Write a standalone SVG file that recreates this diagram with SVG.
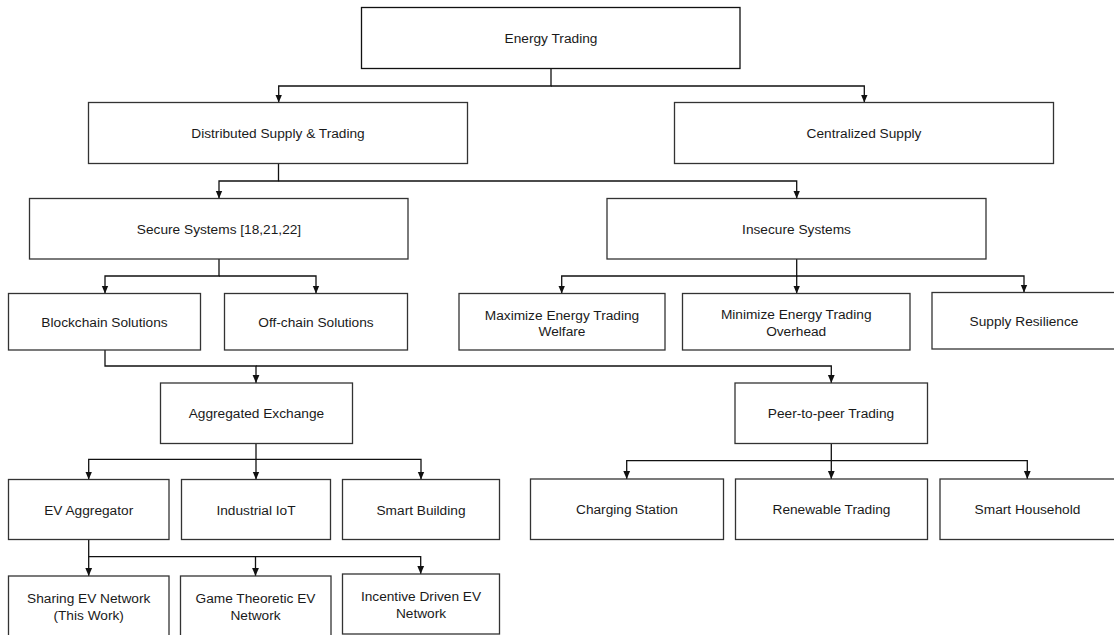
<svg xmlns="http://www.w3.org/2000/svg" width="1114" height="635" viewBox="0 0 1114 635">
  <style>
    .box { fill: #ffffff; stroke: #333333; stroke-width: 1.3; }
    .root { stroke: #111111; }
    .lbl { font-family: "Liberation Sans", Arial, sans-serif; font-size: 13.7px; fill: #1a1a1a; text-anchor: middle; }
    .edge { fill: none; stroke: #111111; stroke-width: 1.3; }
  </style>
  <defs>
    <marker id="arrow" viewBox="0 0 8 8" refX="8" refY="4" markerWidth="8" markerHeight="8" markerUnits="userSpaceOnUse" orient="auto">
      <path d="M0,0.6 L8,4 L0,7.4 z" fill="#111111"/>
    </marker>
  </defs>
  <rect width="1114" height="635" fill="#ffffff"/>

  <!-- connectors -->
  <g id="connectors" class="edge">
    <path d="M551,68.5 V86 H278.7 V102.5" marker-end="url(#arrow)"/>
    <path d="M551,86 H864.3 V102.5" marker-end="url(#arrow)"/>

    <path d="M278.5,163.5 V181 H219 V198.5" marker-end="url(#arrow)"/>
    <path d="M278.5,181 H796.7 V198.5" marker-end="url(#arrow)"/>

    <path d="M219,259 V276 H105 V293.5" marker-end="url(#arrow)"/>
    <path d="M219,276 H316 V293.5" marker-end="url(#arrow)"/>

    <path d="M796.7,259 V276 H561.7 V293.5" marker-end="url(#arrow)"/>
    <path d="M796.7,276 V293.5" marker-end="url(#arrow)"/>
    <path d="M796.7,276 H1024 V292.5" marker-end="url(#arrow)"/>

    <path d="M105,350 V366 H256 V383" marker-end="url(#arrow)"/>
    <path d="M256,366 H831.3 V383" marker-end="url(#arrow)"/>

    <path d="M256,443.5 V459.3 H88.7 V479.5" marker-end="url(#arrow)"/>
    <path d="M256,459.3 V479.5" marker-end="url(#arrow)"/>
    <path d="M256,459.3 H421 V479.5" marker-end="url(#arrow)"/>

    <path d="M831.3,443.5 V460.7 H626.7 V479" marker-end="url(#arrow)"/>
    <path d="M831.3,460.7 V479" marker-end="url(#arrow)"/>
    <path d="M831.3,460.7 H1027.3 V479" marker-end="url(#arrow)"/>

    <path d="M88.7,539.5 V556.7 V576" marker-end="url(#arrow)"/>
    <path d="M88.7,556.7 H255.5 V576" marker-end="url(#arrow)"/>
    <path d="M255.5,556.7 H420.7 V574" marker-end="url(#arrow)"/>
  </g>

  <!-- level 0 -->
  <g id="energy-trading">
    <rect class="box root" x="361.5" y="7.5" width="378.5" height="61"/>
    <text class="lbl" x="551" y="43">Energy Trading</text>
  </g>

  <!-- level 1 -->
  <g id="distributed-supply">
    <rect class="box" x="88.5" y="102.5" width="379" height="61"/>
    <text class="lbl" x="278" y="138">Distributed Supply &amp; Trading</text>
  </g>
  <g id="centralized-supply">
    <rect class="box" x="674.5" y="102.5" width="379" height="61"/>
    <text class="lbl" x="864" y="138">Centralized Supply</text>
  </g>

  <!-- level 2 -->
  <g id="secure-systems">
    <rect class="box" x="29.5" y="198.5" width="378.5" height="60.5"/>
    <text class="lbl" x="219" y="233.7">Secure Systems [18,21,22]</text>
  </g>
  <g id="insecure-systems">
    <rect class="box" x="607" y="198.5" width="379" height="60.5"/>
    <text class="lbl" x="796.5" y="233.7">Insecure Systems</text>
  </g>

  <!-- level 3 -->
  <g id="blockchain-solutions">
    <rect class="box" x="8.5" y="293.5" width="192" height="56.5"/>
    <text class="lbl" x="104.5" y="326.7">Blockchain Solutions</text>
  </g>
  <g id="offchain-solutions">
    <rect class="box" x="224.5" y="293.5" width="183" height="56.5"/>
    <text class="lbl" x="316" y="326.7">Off-chain Solutions</text>
  </g>
  <g id="maximize-welfare">
    <rect class="box" x="459" y="293.5" width="206" height="56.5"/>
    <text class="lbl" x="562" y="319.7">Maximize Energy Trading</text>
    <text class="lbl" x="562" y="336.3">Welfare</text>
  </g>
  <g id="minimize-overhead">
    <rect class="box" x="682.5" y="293.5" width="227.5" height="56.5"/>
    <text class="lbl" x="796.2" y="319.3">Minimize Energy Trading</text>
    <text class="lbl" x="796.2" y="335.7">Overhead</text>
  </g>
  <g id="supply-resilience">
    <rect class="box" x="932" y="292.5" width="190" height="56.5"/>
    <text class="lbl" x="1024" y="326">Supply Resilience</text>
  </g>

  <!-- level 4 -->
  <g id="aggregated-exchange">
    <rect class="box" x="160.5" y="383" width="192" height="60.5"/>
    <text class="lbl" x="256.4" y="418.2">Aggregated Exchange</text>
  </g>
  <g id="peer-to-peer">
    <rect class="box" x="735" y="383" width="192.5" height="60.5"/>
    <text class="lbl" x="831" y="418.2">Peer-to-peer Trading</text>
  </g>

  <!-- level 5 -->
  <g id="ev-aggregator">
    <rect class="box" x="8.5" y="479.5" width="160.5" height="60"/>
    <text class="lbl" x="88.7" y="514.5">EV Aggregator</text>
  </g>
  <g id="industrial-iot">
    <rect class="box" x="181.5" y="479.5" width="149" height="60"/>
    <text class="lbl" x="256" y="514.5">Industrial IoT</text>
  </g>
  <g id="smart-building">
    <rect class="box" x="342.5" y="479.5" width="157" height="60"/>
    <text class="lbl" x="421" y="514.5">Smart Building</text>
  </g>
  <g id="charging-station">
    <rect class="box" x="530.5" y="479" width="193" height="60.5"/>
    <text class="lbl" x="627" y="514.3">Charging Station</text>
  </g>
  <g id="renewable-trading">
    <rect class="box" x="735.5" y="479" width="192" height="60.5"/>
    <text class="lbl" x="831.5" y="514.3">Renewable Trading</text>
  </g>
  <g id="smart-household">
    <rect class="box" x="940" y="479" width="192" height="60.5"/>
    <text class="lbl" x="1027.5" y="514.3">Smart Household</text>
  </g>

  <!-- level 6 -->
  <g id="sharing-ev-network">
    <rect class="box" x="8.5" y="576" width="160.5" height="60"/>
    <text class="lbl" x="88.7" y="603">Sharing EV Network</text>
    <text class="lbl" x="88.7" y="620">(This Work)</text>
  </g>
  <g id="game-theoretic-ev-network">
    <rect class="box" x="180.5" y="576" width="150.5" height="60"/>
    <text class="lbl" x="255.5" y="603">Game Theoretic EV</text>
    <text class="lbl" x="255.5" y="620">Network</text>
  </g>
  <g id="incentive-driven-ev-network">
    <rect class="box" x="342.5" y="574" width="157" height="60"/>
    <text class="lbl" x="421" y="601">Incentive Driven EV</text>
    <text class="lbl" x="421" y="618">Network</text>
  </g>
</svg>
